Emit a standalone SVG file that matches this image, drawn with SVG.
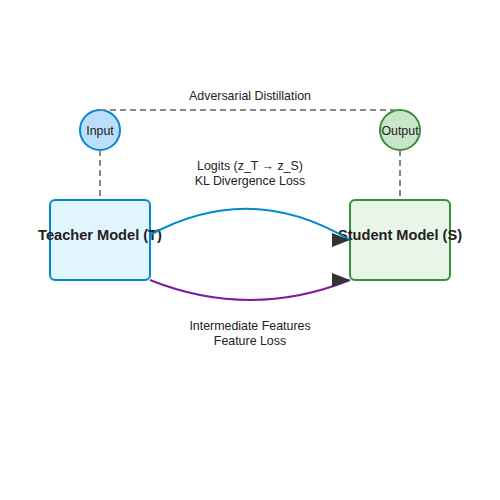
<svg xmlns="http://www.w3.org/2000/svg" width="500" height="500" viewBox="0 0 500 500">
<defs>
<style>
text{font-family:"Liberation Sans",Arial,sans-serif;fill:#222;text-anchor:middle}
.lbl{font-size:12.4px}
.node{font-size:14.6px;font-weight:bold}
.dash{stroke:#888;stroke-width:2;stroke-dasharray:6 4;fill:none}
.edge{fill:none;stroke-width:2}
.head{fill:#333}
</style>
</defs>
<rect width="500" height="500" fill="#fff"/>
<g id="input">
<circle cx="100" cy="130" r="20" fill="#bbdefb" stroke="#0288d1" stroke-width="2"/>
<text class="lbl" x="100" y="135">Input</text>
</g>
<g id="output">
<circle cx="400" cy="130" r="20" fill="#c8e6c9" stroke="#388e3c" stroke-width="2"/>
<text class="lbl" x="400" y="135">Output</text>
</g>
<g id="teacher">
<rect x="50" y="200" width="100" height="80" rx="5" fill="#e1f5fe" stroke="#0288d1" stroke-width="2"/>
<text class="node" x="100" y="240">Teacher Model (T)</text>
</g>
<g id="student">
<rect x="350" y="200" width="100" height="80" rx="5" fill="#e8f5e9" stroke="#388e3c" stroke-width="2"/>
<text class="node" x="400" y="240">Student Model (S)</text>
</g>
<g id="connectors">
<path class="dash" d="M100,110 L400,110"/>
<path class="dash" d="M100,150 L100,200"/>
<path class="dash" d="M400,150 L400,200"/>
<path class="edge" stroke="#0288d1" d="M150,235 Q250,180 350,240"/>
<path class="head" d="M332,233 L350,240 L332,247 Z"/>
<path class="edge" stroke="#7b1fa2" d="M150,280 Q250,320 350,280"/>
<path class="head" d="M332,273 L350,280 L332,287 Z"/>
<text class="lbl" x="250" y="100">Adversarial Distillation</text>
<text class="lbl" x="250" y="170">Logits (z_T → z_S)</text>
<text class="lbl" x="250" y="185">KL Divergence Loss</text>
<text class="lbl" x="250" y="330">Intermediate Features</text>
<text class="lbl" x="250" y="345">Feature Loss</text>
</g>
</svg>
